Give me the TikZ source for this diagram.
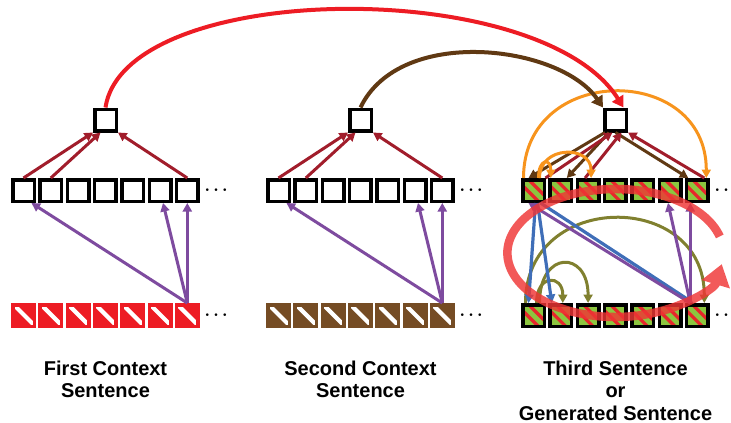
\documentclass[tikz,border=0pt]{standalone}
\usepackage{fontspec}
\setmainfont{Liberation Sans}
\usetikzlibrary{arrows.meta,calc}

\definecolor{cRed}{HTML}{ED1C24}
\definecolor{cBrownArc}{HTML}{603913}
\definecolor{cBrownBox}{HTML}{754C24}
\definecolor{cDkRed}{HTML}{A11D2B}
\definecolor{cPurple}{HTML}{7E4B9F}
\definecolor{cBlue}{HTML}{3F6EB8}
\definecolor{cOrange}{HTML}{F7941D}
\definecolor{cOlive}{HTML}{80802F}
\definecolor{cGreen}{HTML}{8CC63F}
\definecolor{cStripe}{HTML}{E7262B}
\definecolor{cLoop}{HTML}{EF3535}

\tikzset{
  sq/.style={draw=black, line width=3.5, minimum size=21.5, inner sep=0, fill=white},
  redbox/.style={sq, draw=cRed, fill=cRed,
    path picture={\draw[white, line width=4.2]
      ($(path picture bounding box.north west)+(1,0)$) -- ($(path picture bounding box.south east)+(1,0)$);}},
  brownbox/.style={sq, draw=cBrownBox, fill=cBrownBox,
    path picture={\draw[white, line width=4.2]
      ($(path picture bounding box.north west)+(1,0)$) -- ($(path picture bounding box.south east)+(1,0)$);}},
  greenbox/.style={sq, fill=cGreen,
    path picture={\draw[cStripe, line width=3.2]
      ($(path picture bounding box.north west)+(-6,0)$) -- ($(path picture bounding box.south east)+(-6,0)$)
      ($(path picture bounding box.north west)+(6,0)$) -- ($(path picture bounding box.south east)+(6,0)$);}},
  dots/.style={font=\fontsize{17}{17}\selectfont\boldmath, inner sep=0, anchor=base west},
  lab/.style={font=\bfseries\fontsize{20}{22.8}\selectfont, align=center, anchor=north, inner sep=0},
  tipS/.tip={Triangle[length=8.5pt, width=9pt]},
  tipL/.tip={Triangle[length=11pt, width=13pt]},
  drarrow/.style={draw=cDkRed, line width=3, -tipS},
  parrow/.style={draw=cPurple, line width=3, -tipS},
  brarrow/.style={draw=cBrownArc, line width=3, -tipS},
  barrow/.style={draw=cBlue, line width=3.2, -tipS},
  oarrow/.style={draw=cOrange, line width=3, -tipS},
  olarrow/.style={draw=cOlive, line width=3, -tipS},
  longarc/.style={line width=4, -tipL},
  loop/.style={draw=cLoop, line width=8.5,
    -{Triangle[length=21pt, width=28pt]}},
}

\begin{document}
\begin{tikzpicture}[x=1pt, y=-1pt]
\useasboundingbox (0,0) rectangle (731,423);

% three sentence blocks: summary box, hidden row, word row
\foreach \g/\dx/\mst/\bst in {a/0/sq/redbox, b/255/sq/brownbox, c/510/greenbox/greenbox} {
  \node[sq] (\g Top) at (105.5+\dx,120) {};
  \foreach \i in {1,...,7} {
    \node[\mst] (\g M\i) at ({23.5+27.3*(\i-1)+\dx},190.5) {};
    \node[\bst] (\g B\i) at ({23.5+27.3*(\i-1)+\dx},315.5) {};
  }
  \node[dots] (\g Md) at ($(\g M7.east)+(4.5,4.25)$) {$\cdots$};
  \node[dots] (\g Bd) at ($(\g B7.east)+(4.5,4.25)$) {$\cdots$};
}

% labels
\node[lab] (aLab) at (105.5,360.5) {First Context\\Sentence};
\node[lab] (bLab) at (360.5,360.5) {Second Context\\Sentence};
\node[lab] (cLab) at (615.5,360.5) {Third Sentence\\or\\Generated Sentence};

% context blocks: word row -> hidden row -> summary box
\foreach \g in {a,b} {
  \draw[drarrow] (\g M1.north) -- (\g Top.south west);
  \draw[drarrow] (\g M2.north) -- ($(\g Top.south)+(-5,0)$);
  \draw[drarrow] (\g M7.north) -- (\g Top.south east);
  \draw[parrow] (\g B7.north) -- ($(\g M1.south)+(8,0)$);
  \draw[parrow] (\g B7.north) -- ($(\g M6.south)+(3,0)$);
  \draw[parrow] (\g B7.north) -- (\g M7.south);
}

% third block: hidden row <-> summary box
\draw[brarrow] ($(cTop.south west)+(2,0)$) -- ($(cM1.north)+(-5,0)$);
\draw[brarrow] ($(cTop.south west)+(6,0)$) -- ($(cM2.north)+(6,0)$);
\draw[brarrow] (cTop.south) -- ($(cM7.north)+(-9,0)$);
\draw[drarrow] ($(cM1.north)+(12,0)$) -- ($(cTop.south)+(-3,0)$);
\draw[drarrow] ($(cM3.north)+(-3,0)$) -- ($(cTop.south)+(6,0)$);
\draw[drarrow] ($(cM7.north)+(7,0)$) -- (cTop.south east);

% third block: attention arcs over the hidden row
\draw[oarrow] ($(cM1.north)+(-10,0)$) .. controls +(0,-115) and +(0,-115) .. ($(cM7.north)+(9,0)$);
\draw[oarrow] ($(cM1.north)+(5,0)$) .. controls +(0,-20) and +(0,-20) .. ($(cM2.north)+(-10,0)$);
\draw[oarrow] ($(cM1.north)+(6,0)$) .. controls +(0,-33) and +(0,-33) .. ($(cM3.north)+(3,0)$);

% third block: arcs over the word row
\draw[olarrow] ($(cB1.north)+(-8,0)$) .. controls +(0,-113) and +(0,-113) .. ($(cB7.north)+(7,0)$);
\draw[olarrow] ($(cB1.north)+(3,0)$) .. controls +(0,-29) and +(0,-29) .. ($(cB2.north)+(2,0)$);
\draw[olarrow] ($(cB1.north)+(6,0)$) .. controls +(0,-53) and +(0,-53) .. (cB3.north);

% third block: hidden row -> word row and back
\draw[barrow] ($(cM1.south)+(2,0)$) -- ($(cB1.north)+(-5,0)$);
\draw[barrow] ($(cM1.south)+(4,0)$) -- ($(cB2.north)+(-9,0)$);
\draw[barrow] ($(cM1.south)+(7,0)$) -- ($(cB7.north)+(-4,0)$);
\draw[parrow] ($(cB7.north)+(-7,0)$) -- ($(cM1.south)+(-5,0)$);
\draw[parrow] ($(cB7.north)+(-7,0)$) -- ($(cM6.south)+(-2,0)$);
\draw[parrow] ($(cB7.north)+(-7,0)$) -- ($(cM7.south)+(-7,0)$);

% links between the summary boxes
\draw[longarc, draw=cRed] (aTop.north) .. controls (125,-20) and (540,-25) .. ($(cTop.north)+(8,0)$);
\draw[longarc, draw=cBrownArc] (bTop.north) .. controls (400,25) and (560,45) .. (cTop.north west);

% generation loop around the third block, translucent as one piece
\coordinate (cC) at ($(cM4)!0.5!(cB4)$);
\begin{scope}[transparency group, opacity=0.82]
\draw[loop] (cC) ++(-15:108 and 64) arc[start angle=-15, end angle=-350, x radius=108, y radius=64];
\end{scope}
\end{tikzpicture}
\end{document}
